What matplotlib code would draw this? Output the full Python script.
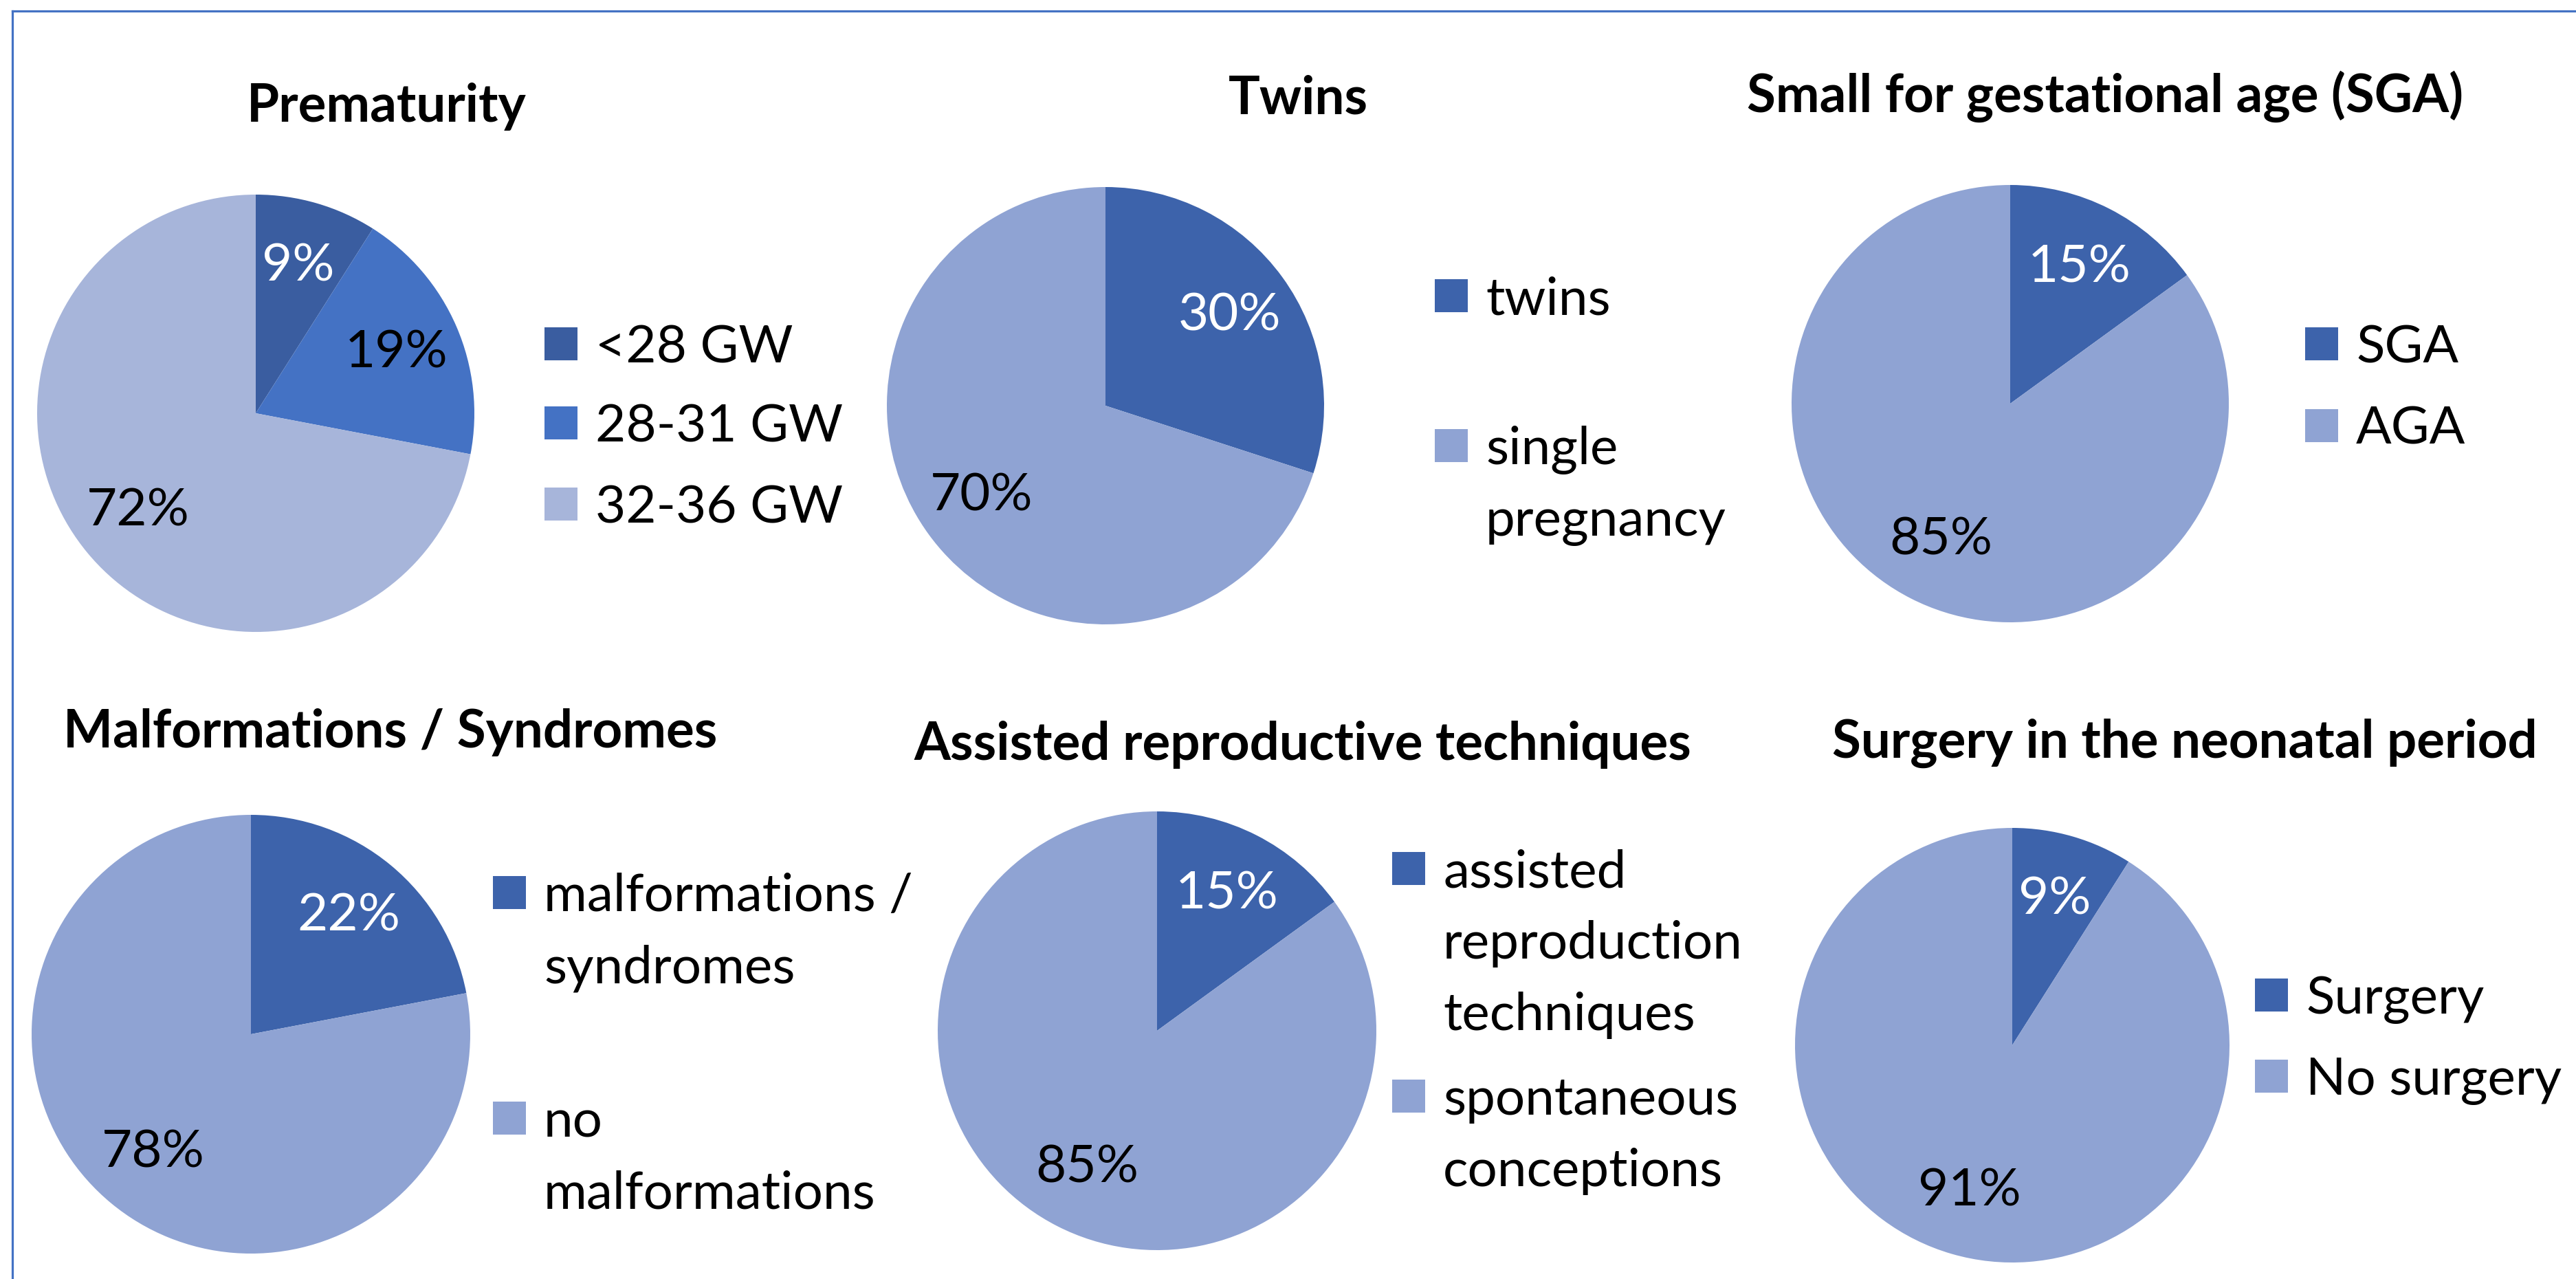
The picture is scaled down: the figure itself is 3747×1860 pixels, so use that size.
import matplotlib
matplotlib.use("Agg")
import matplotlib.pyplot as plt
from matplotlib.lines import Line2D
from matplotlib.patches import Rectangle

plt.rcParams["font.family"] = ["Lato", "DejaVu Sans"]

W, H = 3748, 1860
DPI = 100
FS = 55

titles = [
    "Prematurity",
    "Twins",
    "Small for gestational age (SGA)",
    "Malformations / Syndromes",
    "Assisted reproductive techniques",
    "Surgery in the neonatal period",
]

prem_labels = ["<28 GW", "28-31 GW", "32-36 GW"]
prem_values = [9, 19, 72]

twins_labels = ["twins", "single\npregnancy"]
twins_values = [30, 70]

sga_labels = ["SGA", "AGA"]
sga_values = [15, 85]

malf_labels = ["malformations /\nsyndromes", "no\nmalformations"]
malf_values = [22, 78]

art_labels = ["assisted\nreproduction\ntechniques", "spontaneous\nconceptions"]
art_values = [15, 85]

surg_labels = ["Surgery", "No surgery"]
surg_values = [9, 91]

# styles
DARK3 = ["#3A5DA0", "#4472C4", "#A7B5DA"]
DARK2 = ["#3D63AB", "#8FA3D3"]
PCT3 = ["white", "black", "black"]
PCT2 = ["white", "black"]
BORDER = "#4472C4"

# layout in pixels: pie centre, radius, title centre, legend x, legend row y
layout = [
    dict(pie=(372, 601), r=318, title=(562, 150), leg_x=792, rows=[500, 615, 733]),
    dict(pie=(1608, 590), r=318, title=(1888, 139), leg_x=2087, rows=[430, 648]),
    dict(pie=(2924, 587), r=318, title=(3062, 136), leg_x=3353, rows=[500, 619]),
    dict(pie=(365, 1504), r=319, title=(568, 1060), leg_x=717, rows=[1298, 1626]),
    dict(pie=(1683, 1499), r=319, title=(1895, 1078), leg_x=2025, rows=[1263, 1594]),
    dict(pie=(2927, 1520), r=316, title=(3178, 1075), leg_x=3280, rows=[1447, 1565]),
]
LINE_PITCH = 104
SQ = 48
TEXT_GAP = 26


def fx(px):
    return px / W


def fy(py):
    return 1 - py / H


fig = plt.figure(figsize=(W / DPI, H / DPI), dpi=DPI)
fig.patch.set_facecolor("white")

# frame lines (top and left only)
fig.add_artist(Line2D([fx(18), 1.0], [fy(16), fy(16)], color=BORDER, lw=2.3))
fig.add_artist(Line2D([fx(18), fx(18)], [fy(16), 0.0], color=BORDER, lw=2.3))

data = [
    (prem_labels, prem_values, DARK3, PCT3),
    (twins_labels, twins_values, DARK2, PCT2),
    (sga_labels, sga_values, DARK2, PCT2),
    (malf_labels, malf_values, DARK2, PCT2),
    (art_labels, art_values, DARK2, PCT2),
    (surg_labels, surg_values, DARK2, PCT2),
]

for title, (labels, values, colors, pct_colors), lay in zip(titles, data, layout):
    cx, cy = lay["pie"]
    r = lay["r"]
    ax = fig.add_axes([fx(cx - r), fy(cy + r), 2 * r / W, 2 * r / H])
    wedges, _, autotexts = ax.pie(
        values,
        colors=colors,
        startangle=90,
        counterclock=False,
        autopct=lambda p: f"{p:.0f}%",
        pctdistance=0.70,
        wedgeprops=dict(linewidth=0),
        textprops=dict(fontsize=FS),
    )
    for t, c in zip(autotexts, pct_colors):
        t.set_color(c)
    ax.set_xlim(-1, 1)
    ax.set_ylim(-1, 1)

    tx, ty = lay["title"]
    fig.text(fx(tx), fy(ty + 27), title, ha="center", va="baseline",
             fontsize=FS, fontweight="bold", color="black")

    lx = lay["leg_x"]
    for label, color, row in zip(labels, colors, lay["rows"]):
        fig.add_artist(Rectangle((fx(lx), fy(row + SQ / 2)), SQ / W, SQ / H,
                                 transform=fig.transFigure, facecolor=color,
                                 edgecolor="none"))
        for i, line in enumerate(label.split("\n")):
            fig.text(fx(lx + SQ + TEXT_GAP), fy(row + i * LINE_PITCH + 27), line,
                     ha="left", va="baseline", fontsize=FS, color="black")

fig.savefig("out.png", dpi=DPI, facecolor="white")
